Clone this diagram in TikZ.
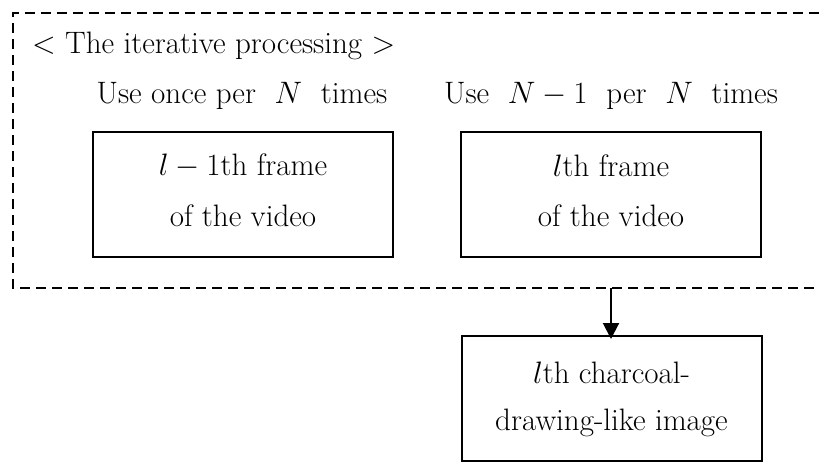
\RequirePackage{fix-cm}
\documentclass[tikz,border=0pt]{standalone}
\usetikzlibrary{arrows.meta}
\begin{document}
\begin{tikzpicture}[x=1pt,y=-1pt,
  every node/.style={font=\fontsize{31}{37}\selectfont},
  framebox/.style={draw, line width=2pt, minimum width=300pt, minimum height=125pt, inner sep=0pt},
  dashline/.style={line width=2.6pt, dash pattern=on 10pt off 6pt},
  txt/.style={inner sep=0pt, anchor=base}]
\useasboundingbox (0,0) rectangle (819,464);
\coordinate (tl) at (13,13);
\coordinate (tr) at (819,13);
\coordinate (bl) at (13,288);
\coordinate (br) at (819,288);
\draw[dashline] (tr) -- (tl) -- (bl) -- (br);
\node[txt, anchor=base west] (title) at (32,53) {$<$ The iterative processing $>$};
\node[txt] (use1) at (242,103) {Use once per \ $N$\ \ times};
\node[txt] (use2) at (611,103) {Use \ $N-1$\ \ per \ $N$\ \ times};
\node[framebox] (f1) at (243,194.5) {};
\node[txt] (f1a) at (243,175) {$l-1$th frame};
\node[txt] (f1b) at (243,226) {of the video};
\node[framebox] (f2) at (611,194.5) {};
\node[txt] (f2a) at (611,176) {$l$th frame};
\node[txt] (f2b) at (611,226) {of the video};
\node[framebox] (f3) at (611.5,398.5) {};
\node[txt] (f3a) at (611.5,383) {$l$th charcoal-};
\node[txt] (f3b) at (611.5,430) {drawing-like image};
\coordinate (arrtop) at (611,288);
\draw[line width=2pt, -{Triangle[length=16pt,width=16pt]}] (arrtop) -- ([yshift=-4pt]f3.north -| arrtop);
\end{tikzpicture}
\end{document}
